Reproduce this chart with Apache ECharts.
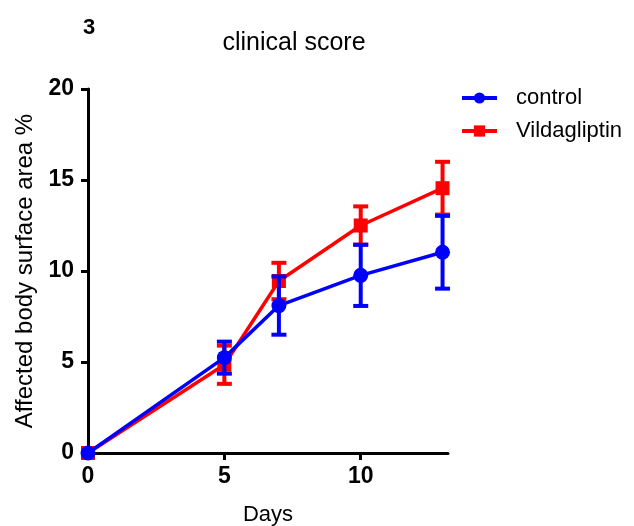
<!DOCTYPE html>
<html><head><meta charset="utf-8">
<script src="https://cdn.jsdelivr.net/npm/echarts@6/dist/echarts.min.js"></script>
<style>html,body{margin:0;padding:0;background:#fff}#c{width:634px;height:526px}</style>
</head><body><div id="c"></div>
<script>
const days = [0, 5, 7, 10, 13];
const controlMean = [0, 5.24, 8.1, 9.76, 11.03];
const controlErr = [0, 0.88, 1.6, 1.68, 2.0];
const vildaMean = [0, 4.85, 9.45, 12.5, 14.55];
const vildaErr = [0, 1.05, 1.0, 1.05, 1.45];
const xTicks = [0, 5, 10];
const yTicks = [0, 5, 10, 15, 20];

const font = 'Arial, "Liberation Sans", sans-serif';
const chart = echarts.init(document.getElementById('c'), null, {renderer: 'canvas'});

function errData(mean, err) {
  return days.map((d, i) => [d, mean[i] - err[i], mean[i] + err[i]]);
}
function errSeries(name, mean, err, color, z) {
  return {
    type: 'custom', name: name + '_err', z: z, silent: true,
    data: errData(mean, err),
    renderItem: function (params, api) {
      const x = api.value(0), lo = api.value(1), hi = api.value(2);
      if (hi - lo <= 0) return null;
      const p1 = api.coord([x, lo]), p2 = api.coord([x, hi]);
      const hw = 7.5;
      const st = {stroke: color, lineWidth: 4};
      return {type: 'group', children: [
        {type: 'line', shape: {x1: p1[0], y1: p1[1], x2: p2[0], y2: p2[1]}, style: st},
        {type: 'line', shape: {x1: p1[0]-hw, y1: p1[1], x2: p1[0]+hw, y2: p1[1]}, style: st},
        {type: 'line', shape: {x1: p2[0]-hw, y1: p2[1], x2: p2[0]+hw, y2: p2[1]}, style: st}
      ]};
    }
  };
}

chart.setOption({
  animation: false,
  backgroundColor: '#fff',
  title: [
    {text: 'clinical score', left: 289, top: 26, textAlign: 'center',
     textStyle: {fontFamily: font, fontSize: 25, fontWeight: 'normal', color: '#000'}},
    {text: '3', left: 78, top: 12,
     textStyle: {fontFamily: font, fontSize: 22, fontWeight: 'bold', color: '#000'}}
  ],
  legend: {
    left: 455, top: 82, orient: 'vertical', itemGap: 11,
    itemWidth: 35, itemHeight: 14,
    data: ['control', 'Vildagliptin'],
    lineStyle: {width: 4},
    textStyle: {fontFamily: font, fontSize: 22, color: '#000', padding: [0, 0, 0, 14]}
  },
  grid: {left: 88, top: 89, right: 186, bottom: 73, containLabel: false, outerBoundsMode: 'none'},
  xAxis: {
    type: 'value', min: 0, max: 13.2,
    name: 'Days', nameLocation: 'middle', nameGap: 51,
    nameTextStyle: {fontFamily: font, fontSize: 22, color: '#000'},
    splitLine: {show: false},
    axisLine: {lineStyle: {color: '#000', width: 3}},
    axisTick: {length: 7, lineStyle: {color: '#000', width: 3}, customValues: xTicks},
    axisLabel: {customValues: xTicks, fontFamily: font, fontSize: 23, fontWeight: 'bold', color: '#000', margin: 12}
  },
  yAxis: {
    type: 'value', min: 0, max: 20,
    name: 'Affected body surface area %', nameLocation: 'middle', nameGap: 50,
    nameTextStyle: {fontFamily: font, fontSize: 24, color: '#000'},
    splitLine: {show: false},
    axisLine: {lineStyle: {color: '#000', width: 3}},
    axisTick: {length: 7, lineStyle: {color: '#000', width: 3}, customValues: yTicks},
    axisLabel: {customValues: yTicks, fontFamily: font, fontSize: 23, fontWeight: 'bold', color: '#000', margin: 14}
  },
  series: [
    errSeries('Vildagliptin', vildaMean, vildaErr, '#ff0000', 2),
    {
      name: 'Vildagliptin', type: 'line', z: 3,
      data: days.map((d, i) => [d, vildaMean[i]]),
      symbol: 'rect', symbolSize: 14,
      itemStyle: {color: '#ff0000'},
      lineStyle: {color: '#ff0000', width: 3.5}
    },
    errSeries('control', controlMean, controlErr, '#0000ff', 4),
    {
      name: 'control', type: 'line', z: 5,
      data: days.map((d, i) => [d, controlMean[i]]),
      symbol: 'circle', symbolSize: 15,
      itemStyle: {color: '#0000ff'},
      lineStyle: {color: '#0000ff', width: 3.5}
    }
  ]
});
</script>
</body></html>
